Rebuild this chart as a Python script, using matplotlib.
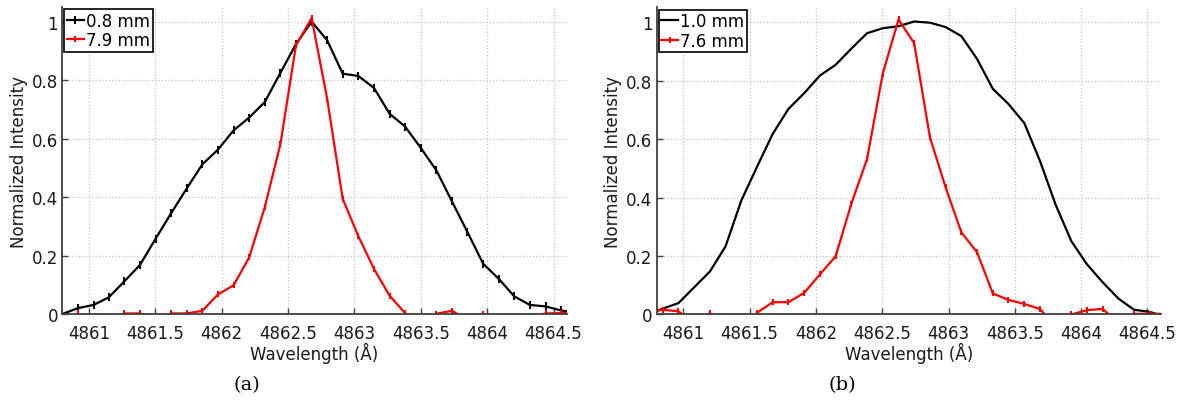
import numpy as np
import matplotlib
matplotlib.use('Agg')
import matplotlib.pyplot as plt
from matplotlib.ticker import FormatStrFormatter

plt.rcParams['font.family'] = ['DejaVu Sans']

# panel (a)
wl_a = [4860.800, 4860.917, 4861.035, 4861.150, 4861.268, 4861.385, 4861.502,
        4861.620, 4861.738, 4861.855, 4861.972, 4862.090, 4862.208, 4862.325,
        4862.443, 4862.560, 4862.678, 4862.795, 4862.912, 4863.030, 4863.148,
        4863.265, 4863.382, 4863.500, 4863.618, 4863.735, 4863.852, 4863.970,
        4864.088, 4864.205, 4864.322, 4864.440, 4864.558, 4864.675]
i_08mm = [0.0, 0.02, 0.031, 0.057, 0.112, 0.168, 0.257, 0.345, 0.43, 0.512,
          0.562, 0.628, 0.672, 0.725, 0.825, 0.923, 1.0, 0.936, 0.822, 0.814,
          0.773, 0.685, 0.641, 0.568, 0.491, 0.385, 0.28, 0.172, 0.12, 0.06,
          0.031, 0.026, 0.012, 0.005]
i_79mm = [-0.04, 0.002, -0.03, -0.02, 0.002, 0.002, -0.02, 0.002, 0.002, 0.011,
          0.067, 0.098, 0.194, 0.365, 0.582, 0.919, 1.012, 0.736, 0.394, 0.266,
          0.154, 0.063, 0.003, -0.03, 0.001, 0.011, -0.02, 0.001, -0.03, -0.03,
          -0.01, 0.002, 0.003, 0.003]

# panel (b)
wl_b = [4860.727, 4860.845, 4860.964, 4861.082, 4861.201, 4861.319, 4861.438,
        4861.556, 4861.675, 4861.793, 4861.912, 4862.030, 4862.149, 4862.267,
        4862.386, 4862.504, 4862.623, 4862.741, 4862.860, 4862.978, 4863.097,
        4863.215, 4863.334, 4863.452, 4863.571, 4863.689, 4863.808, 4863.926,
        4864.045, 4864.163, 4864.282, 4864.400, 4864.519, 4864.637]
i_10mm = [0.0, 0.02, 0.039, 0.093, 0.147, 0.233, 0.39, 0.505, 0.618, 0.703,
          0.757, 0.817, 0.854, 0.909, 0.962, 0.979, 0.986, 1.002, 0.998, 0.983,
          0.952, 0.874, 0.772, 0.72, 0.655, 0.526, 0.375, 0.251, 0.171, 0.11,
          0.054, 0.016, 0.009, -0.01]
i_76mm = [0.008, 0.016, 0.011, -0.03, 0.005, -0.04, -0.06, 0.006, 0.042, 0.042,
          0.074, 0.137, 0.199, 0.378, 0.532, 0.823, 1.009, 0.928, 0.606, 0.435,
          0.281, 0.213, 0.072, 0.05, 0.036, 0.019, -0.04, 0.0, 0.015, 0.019,
          -0.03, 0.002, 0.003, 0.002]

xticks = [4861, 4861.5, 4862, 4862.5, 4863, 4863.5, 4864, 4864.5]
yticks = [0, 0.2, 0.4, 0.6, 0.8, 1]


def style_axes(ax):
    ax.set_xlim(4860.8, 4864.6)
    ax.set_ylim(0, 1.05)
    ax.set_xticks(xticks)
    ax.set_yticks(yticks)
    ax.xaxis.set_major_formatter(FormatStrFormatter('%g'))
    ax.yaxis.set_major_formatter(FormatStrFormatter('%g'))
    ax.grid(True, linestyle=':', color='#c4c4c4', linewidth=0.9)
    ax.set_axisbelow(True)
    for s in ['top', 'right']:
        ax.spines[s].set_visible(False)
    for s in ['left', 'bottom']:
        ax.spines[s].set_color('#404040')
        ax.spines[s].set_linewidth(1.3)
    ax.tick_params(direction='in', length=4, width=1, labelsize=12,
                   colors='#404040', labelcolor='#1a1a1a', pad=3)
    ax.tick_params(axis='x', pad=7)
    ax.set_xlabel('Wavelength (Å)', fontsize=12, labelpad=0, color='#1a1a1a')
    ax.set_ylabel('Normalized Intensity', fontsize=12, labelpad=3, color='#1a1a1a')
    leg = ax.legend(loc='upper left', bbox_to_anchor=(0.004, 0.993),
                    borderaxespad=0, fancybox=False, framealpha=1,
                    edgecolor='black', fontsize=12, handlelength=1.0,
                    handletextpad=0.15, borderpad=0.15, labelspacing=0.1)
    leg.get_frame().set_linewidth(1.2)


fig = plt.figure(figsize=(11.85, 4.02), dpi=100)
ax1 = fig.add_axes([0.0526, 0.2164, 0.4257, 0.7637])
ax2 = fig.add_axes([0.5542, 0.2152, 0.4253, 0.7637])

ax1.plot(wl_a, i_08mm, color='black', lw=1.6, marker='|', ms=6, mew=1.5, label='0.8 mm')
ax1.plot(wl_a, i_79mm, color='red', lw=1.6, marker='|', ms=4, mew=1.5, label='7.9 mm')
style_axes(ax1)

ax2.plot(wl_b, i_10mm, color='black', lw=1.6, label='1.0 mm')
ax2.plot(wl_b, i_76mm, color='red', lw=1.6, marker='|', ms=4, mew=1.5, label='7.6 mm')
style_axes(ax2)

fig.text(0.208, 0.042, '(a)', ha='center', va='center', fontsize=14, family='DejaVu Serif')
fig.text(0.711, 0.042, '(b)', ha='center', va='center', fontsize=14, family='DejaVu Serif')

fig.savefig('out.png', dpi=100)
